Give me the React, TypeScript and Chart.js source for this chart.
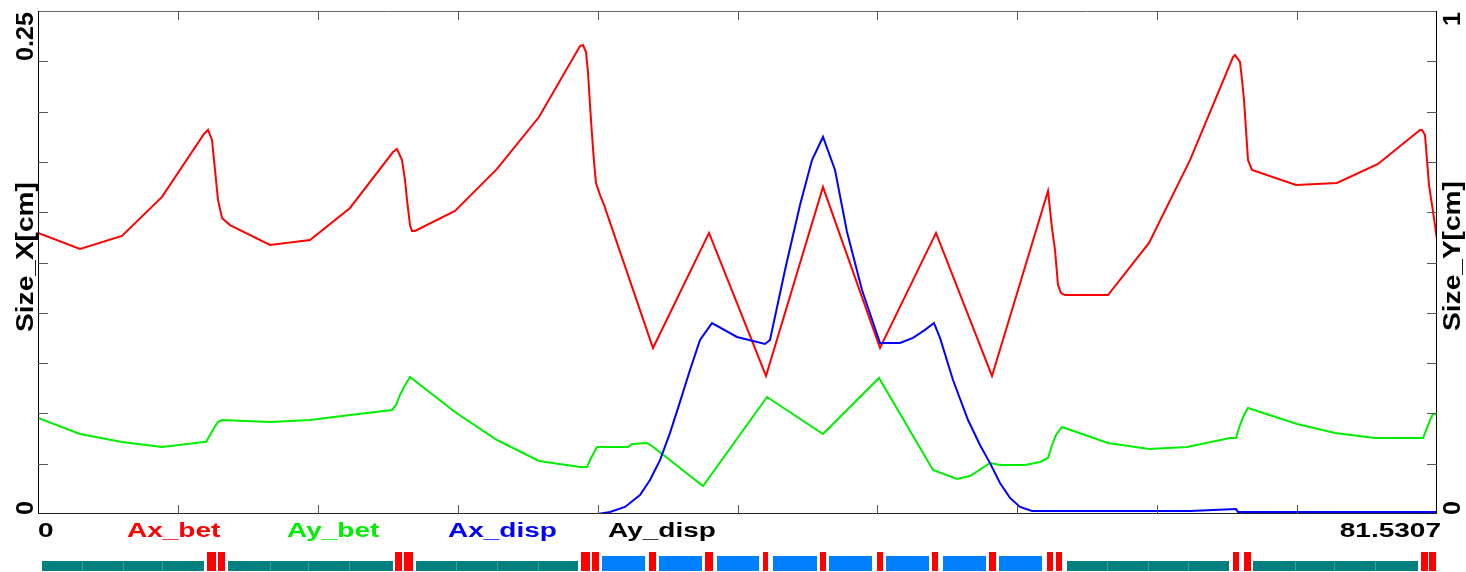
import React, { useEffect, useRef } from "react";
import { Chart, registerables } from "chart.js";

Chart.register(...registerables);

const S_MAX = 81.5307;

// Ax_bet (Size_X, left axis)
const axBetS = [0, 2.448, 4.895, 7.226, 9.674, 9.907, 10.14, 10.315, 10.49, 10.723, 11.189, 13.521, 15.852, 18.183, 20.689, 20.922, 21.213, 21.388, 21.505, 21.679, 21.796, 21.971, 24.302, 26.75, 29.197, 31.587, 31.762, 31.936, 32.053, 32.169, 32.286, 32.403, 32.519, 32.752, 32.985, 35.841, 39.105, 42.426, 45.748, 49.07, 52.333, 55.597, 58.861, 59.094, 59.269, 59.444, 59.618, 59.851, 62.357, 64.747, 67.136, 69.642, 69.759, 70.05, 70.167, 70.283, 70.4, 70.516, 70.75, 73.314, 75.703, 78.093, 80.54, 80.657, 80.832, 80.948, 81.065, 81.24, 81.415, 81.5307];
const axBetV = [0.1397, 0.1317, 0.1382, 0.1576, 0.1889, 0.1909, 0.1859, 0.171, 0.1561, 0.1471, 0.1436, 0.1337, 0.1362, 0.1521, 0.1799, 0.1814, 0.1759, 0.166, 0.1561, 0.1436, 0.1407, 0.1407, 0.1506, 0.1715, 0.1973, 0.2326, 0.2331, 0.2296, 0.2197, 0.2033, 0.1884, 0.175, 0.1645, 0.1586, 0.1536, 0.0825, 0.1397, 0.0686, 0.1625, 0.0825, 0.1397, 0.0686, 0.1605, 0.1421, 0.1312, 0.1138, 0.1098, 0.1088, 0.1088, 0.1347, 0.1759, 0.2271, 0.2281, 0.2247, 0.2157, 0.2058, 0.1909, 0.1759, 0.171, 0.1635, 0.1645, 0.174, 0.1909, 0.1909, 0.1884, 0.1759, 0.1635, 0.1536, 0.1436, 0.1362];

// Ay_bet (Size_Y, right axis)
const ayBetS = [0, 2.448, 4.895, 7.226, 9.674, 9.791, 10.024, 10.257, 10.49, 10.723, 13.521, 15.852, 18.183, 20.63, 20.864, 21.097, 21.33, 21.679, 24.302, 26.75, 29.197, 31.587, 31.995, 32.228, 32.577, 34.384, 34.617, 35.491, 35.782, 38.755, 42.485, 45.748, 49.012, 52.159, 53.557, 54.315, 55.481, 56.063, 57.52, 58.395, 58.861, 59.094, 59.327, 59.677, 62.357, 64.747, 66.961, 69.467, 69.817, 70.05, 70.283, 70.516, 73.372, 75.587, 77.918, 80.715, 80.948, 81.181, 81.298, 81.5307];
const ayBetV = [0.1909, 0.159, 0.1431, 0.1332, 0.1431, 0.1431, 0.1571, 0.171, 0.1829, 0.1869, 0.1829, 0.1869, 0.1968, 0.2068, 0.2167, 0.2366, 0.2525, 0.2724, 0.2028, 0.1471, 0.1054, 0.0934, 0.0934, 0.1113, 0.1332, 0.1332, 0.1392, 0.1412, 0.1352, 0.0557, 0.2326, 0.159, 0.2704, 0.0875, 0.0696, 0.0755, 0.1014, 0.0974, 0.0974, 0.1034, 0.1113, 0.1372, 0.1571, 0.173, 0.1412, 0.1292, 0.1332, 0.1511, 0.1511, 0.1769, 0.1968, 0.2107, 0.1789, 0.161, 0.1511, 0.1511, 0.171, 0.1909, 0.1988, 0.1988];

// Ax_disp (left axis)
const axDispS = [0, 32.636, 33.335, 34.209, 35.083, 35.666, 36.249, 36.832, 37.414, 37.997, 38.58, 39.279, 40.736, 42.368, 42.659, 43.534, 44.408, 45.107, 45.748, 46.448, 47.147, 48.021, 49.07, 50.236, 50.993, 51.693, 52.217, 52.567, 53.324, 54.199, 54.897, 55.481, 56.063, 56.646, 57.229, 57.928, 67.136, 69.817, 69.934, 81.5307];
const axDispV = [0, 0, 0.001, 0.0035, 0.0094, 0.0169, 0.0268, 0.0403, 0.0557, 0.0716, 0.0865, 0.0949, 0.088, 0.0845, 0.0865, 0.1213, 0.1536, 0.1759, 0.1874, 0.171, 0.1402, 0.1113, 0.085, 0.085, 0.0875, 0.0915, 0.0949, 0.0875, 0.0666, 0.0467, 0.0343, 0.0253, 0.0154, 0.008, 0.0035, 0.0015, 0.0015, 0.0025, 0.001, 0.001];

// Ay_disp (right axis)
const ayDispS = [0, 81.5307];
const ayDispV = [0, 0];

const seriesNames = ["Ax_bet", "Ay_bet", "Ax_disp", "Ay_disp"];
const xTickLabels = ["0", "81.5307"];
const leftTickLabels = ["0", "0.25"];
const rightTickLabels = ["0", "1"];
const leftTitle = "Size_X[cm]";
const rightTitle = "Size_Y[cm]";

// Lattice elements: B = dipole, Q = quadrupole, S = short red element
const latStart = [0.233, 9.849, 10.49, 11.073, 20.805, 21.33, 22.029, 31.645, 32.286, 32.869, 35.608, 36.191, 38.871, 39.571, 42.252, 42.834, 45.573, 46.098, 48.895, 49.42, 52.101, 52.742, 55.422, 56.005, 58.802, 59.327, 59.968, 69.642, 70.283, 70.808, 80.599, 81.065];
const latEnd = [9.674, 10.373, 10.898, 20.689, 21.213, 21.854, 31.47, 32.169, 32.694, 35.375, 36.016, 38.697, 39.338, 42.018, 42.543, 45.398, 45.923, 48.604, 49.245, 51.926, 52.451, 55.248, 55.83, 58.511, 59.152, 59.677, 69.409, 69.992, 70.691, 80.424, 81.007, 81.473];
const latType = ["B", "S", "S", "B", "S", "S", "B", "S", "S", "Q", "S", "Q", "S", "Q", "S", "Q", "S", "Q", "S", "Q", "S", "Q", "S", "Q", "S", "S", "B", "S", "S", "B", "S", "S"];
const latSlices = [2.564, 4.954, 7.226, 13.521, 15.735, 18.124, 24.36, 26.75, 29.139, 62.299, 64.689, 67.02, 73.256, 75.528, 77.918];

const zip = (s: number[], v: number[]) => s.map((x, i) => ({ x, y: v[i] }));

const FONT = '"Liberation Sans", Arial, sans-serif';

function txt(
  ctx: CanvasRenderingContext2D,
  t: string,
  x: number,
  y: number,
  align: CanvasTextAlign,
  sx: number,
  rotated: boolean,
  size: number,
  color: string
) {
  ctx.save();
  ctx.translate(x, y);
  if (rotated) ctx.rotate(-Math.PI / 2);
  ctx.scale(sx, 1);
  ctx.font = `bold ${size}px ${FONT}`;
  ctx.fillStyle = color;
  ctx.textAlign = align;
  ctx.textBaseline = "alphabetic";
  ctx.fillText(t, 0, 0);
  ctx.restore();
}

const decorPlugin = {
  id: "decor",
  afterDraw(chart: any) {
    const ctx: CanvasRenderingContext2D = chart.ctx;
    const a = chart.chartArea;
    const xs = chart.scales.x;
    const yl = chart.scales.y;
    const yr = chart.scales.y2;
    ctx.save();
    // frame
    ctx.lineWidth = 1;
    ctx.strokeStyle = "#666";
    ctx.beginPath();
    ctx.moveTo(a.left, a.top + 0.5);
    ctx.lineTo(a.right, a.top + 0.5);
    ctx.stroke();
    ctx.strokeStyle = "#000";
    ctx.beginPath();
    ctx.moveTo(a.left + 0.5, a.top);
    ctx.lineTo(a.left + 0.5, a.bottom);
    ctx.moveTo(a.right - 0.5, a.top);
    ctx.lineTo(a.right - 0.5, a.bottom);
    ctx.stroke();
    ctx.strokeStyle = "#222";
    ctx.beginPath();
    ctx.moveTo(a.left, a.bottom - 0.5);
    ctx.lineTo(a.right, a.bottom - 0.5);
    ctx.stroke();
    // inner ticks
    ctx.strokeStyle = "#555";
    ctx.beginPath();
    for (let k = 1; k < 10; k++) {
      const px = Math.round(xs.getPixelForValue((S_MAX * k) / 10)) + 0.5;
      ctx.moveTo(px, a.bottom);
      ctx.lineTo(px, a.bottom - 9);
      ctx.moveTo(px, a.top);
      ctx.lineTo(px, a.top + 9);
      const pyl = Math.round(yl.getPixelForValue(0.025 * k)) + 0.5;
      ctx.moveTo(a.left, pyl);
      ctx.lineTo(a.left + 10, pyl);
      const pyr = Math.round(yr.getPixelForValue(0.1 * k)) + 0.5;
      ctx.moveTo(a.right, pyr);
      ctx.lineTo(a.right - 10, pyr);
    }
    ctx.stroke();

    // axis tick labels (rotated)
    txt(ctx, leftTickLabels[1], 33, a.top + 1, "right", 1.05, true, 24, "#000");
    txt(ctx, leftTickLabels[0], 33, a.bottom + 1, "left", 1.05, true, 24, "#000");
    txt(ctx, leftTitle, 33, 257, "center", 1.17, true, 24, "#000");
    txt(ctx, rightTickLabels[1], 1460, a.top + 1, "right", 1.05, true, 24, "#000");
    txt(ctx, rightTickLabels[0], 1460, a.bottom + 1, "left", 1.05, true, 24, "#000");
    txt(ctx, rightTitle, 1460, 256, "center", 1.17, true, 24, "#000");

    // bottom labels / legend
    const by = 537;
    txt(ctx, xTickLabels[0], a.left, by, "left", 1.4, false, 20, "#000");
    txt(ctx, xTickLabels[1], 1441, by, "right", 1.4, false, 20, "#000");
    const legX = [127, 287, 448, 608];
    const legC = ["#ff0000", "#00ee00", "#0000ff", "#000000"];
    seriesNames.forEach((n, i) => txt(ctx, n, legX[i], by, "left", 1.4, false, 20, legC[i]));

    // lattice
    latType.forEach((t, i) => {
      const x1 = xs.getPixelForValue(latStart[i]);
      const x2 = xs.getPixelForValue(latEnd[i]);
      if (t === "B") {
        ctx.fillStyle = "#008080";
        ctx.fillRect(x1, 561, x2 - x1, 10);
      } else if (t === "Q") {
        ctx.fillStyle = "#0080ff";
        ctx.fillRect(x1, 556, x2 - x1, 15);
      } else {
        ctx.fillStyle = "#ff0000";
        ctx.fillRect(x1, 552, x2 - x1, 19);
      }
    });
    ctx.strokeStyle = "#3f9d9d";
    ctx.beginPath();
    latSlices.forEach((s) => {
      const px = Math.round(xs.getPixelForValue(s)) + 0.5;
      ctx.moveTo(px, 561);
      ctx.lineTo(px, 571);
    });
    ctx.stroke();
    ctx.restore();
  },
};

export default function App() {
  const ref = useRef<HTMLCanvasElement | null>(null);
  useEffect(() => {
    if (!ref.current) return;
    const chart = new Chart(ref.current, {
      type: "line",
      data: {
        datasets: [
          { label: seriesNames[2], data: zip(axDispS, axDispV), borderColor: "#0000ff", yAxisID: "y", order: 0 },
          { label: seriesNames[0], data: zip(axBetS, axBetV), borderColor: "#ff0000", yAxisID: "y", order: 1 },
          { label: seriesNames[1], data: zip(ayBetS, ayBetV), borderColor: "#00ee00", yAxisID: "y2", order: 2 },
          { label: seriesNames[3], data: zip(ayDispS, ayDispV), borderColor: "#000000", yAxisID: "y2", order: 3 },
        ].map((d) => ({ ...d, borderWidth: 2, pointRadius: 0, tension: 0, fill: false })),
      },
      options: {
        animation: false,
        responsive: false,
        devicePixelRatio: 1,
        layout: { padding: { left: 38, right: 29, top: 11, bottom: 58 } },
        plugins: { legend: { display: false }, tooltip: { enabled: false } },
        scales: {
          x: { type: "linear", min: 0, max: S_MAX, display: false },
          y: { type: "linear", min: 0, max: 0.25, display: false },
          y2: { type: "linear", min: 0, max: 1, display: false, position: "right" },
        },
      },
      plugins: [decorPlugin],
    } as any);
    return () => chart.destroy();
  }, []);
  return (
    <div style={{ position: "fixed", left: 0, top: 0, width: 1466, height: 572, background: "#fff" }}>
      <canvas ref={ref} width={1466} height={572} style={{ width: 1466, height: 572, display: "block" }} />
    </div>
  );
}
